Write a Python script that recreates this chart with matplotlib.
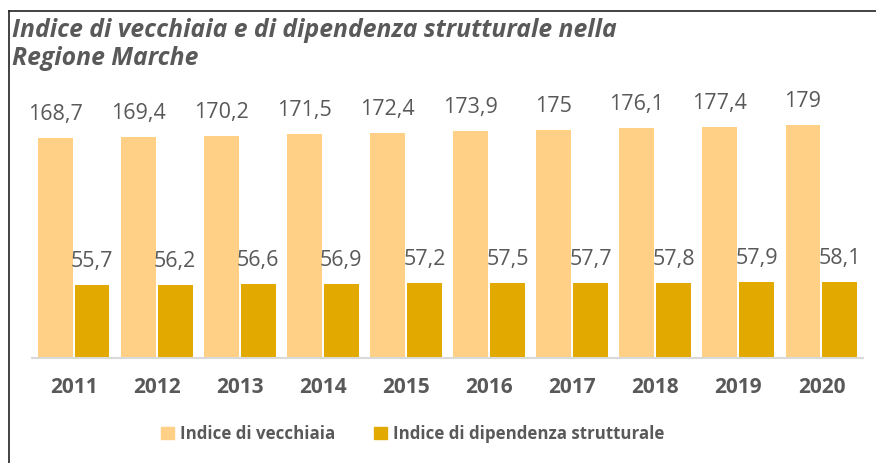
import matplotlib
matplotlib.use("Agg")
import matplotlib.pyplot as plt
import numpy as np
from matplotlib.patches import Patch
from matplotlib.lines import Line2D

years = ["2011", "2012", "2013", "2014", "2015", "2016", "2017", "2018", "2019", "2020"]
vecchiaia = [168.7, 169.4, 170.2, 171.5, 172.4, 173.9, 175.0, 176.1, 177.4, 179.0]
dipendenza = [55.7, 56.2, 56.6, 56.9, 57.2, 57.5, 57.7, 57.8, 57.9, 58.1]
series_names = ["Indice di vecchiaia", "Indice di dipendenza strutturale"]
title = "Indice di vecchiaia e di dipendenza strutturale nella\nRegione Marche"

light = "#FFD085"
dark = "#E2A900"
grey = "#595959"

plt.rcParams["font.family"] = ["Open Sans", "DejaVu Sans"]

fig = plt.figure(figsize=(8.76, 4.63), dpi=100)
ax = fig.add_axes([32 / 876, 1 - 358 / 463, (863 - 32) / 876, 260.8 / 463])

x = np.arange(len(years))
w = 0.42
off = 0.222
b1 = ax.bar(x - off, vecchiaia, w, color=light)
b2 = ax.bar(x + off, dipendenza, w, color=dark)


def fmt(v):
    # italian decimal comma, drop ".0"
    if v == int(v):
        return str(int(v))
    return f"{v:.1f}".replace(".", ",")


for bars, vals in [(b1, vecchiaia), (b2, dipendenza)]:
    for r, v in zip(bars, vals):
        ax.annotate(fmt(v), (r.get_x() + r.get_width() / 2, r.get_height()),
                    xytext=(0, 13), textcoords="offset points",
                    ha="center", va="baseline", fontsize=15.5, color=grey)

ax.set_xlim(-0.5, len(years) - 0.5)
ax.set_ylim(0, 200)
ax.set_xticks(x)
ax.set_xticklabels(years, fontsize=15, fontweight="bold", color=grey)
ax.tick_params(axis="x", length=0, pad=14)
ax.set_yticks([])
for s in ["top", "right", "left"]:
    ax.spines[s].set_visible(False)
ax.spines["bottom"].set_color("#D9D9D9")
ax.spines["bottom"].set_linewidth(1.5)

# baseline of the last title line
fig.text(12 / 876, 1 - 65 / 463, title, fontsize=17.8, fontweight="bold",
         fontstyle="italic", color=grey, va="baseline", linespacing=1.15)

handles = [Patch(color=light), Patch(color=dark)]
fig.legend(handles, series_names, loc="center", bbox_to_anchor=(0.471, 1 - 434 / 463),
           ncol=2, frameon=False, handlelength=0.75, handleheight=0.75,
           handletextpad=0.35, columnspacing=2.3,
           prop={"size": 12.2, "weight": "bold"}, labelcolor=grey)

# frame lines of the original picture (top and left only)
fig.add_artist(Line2D([9 / 876, 9 / 876], [0, 1 - 10.5 / 463], color="#222222", lw=1.2))
fig.add_artist(Line2D([9 / 876, 1], [1 - 10.5 / 463, 1 - 10.5 / 463], color="#222222", lw=1.2))

fig.savefig("out.png", dpi=100)
